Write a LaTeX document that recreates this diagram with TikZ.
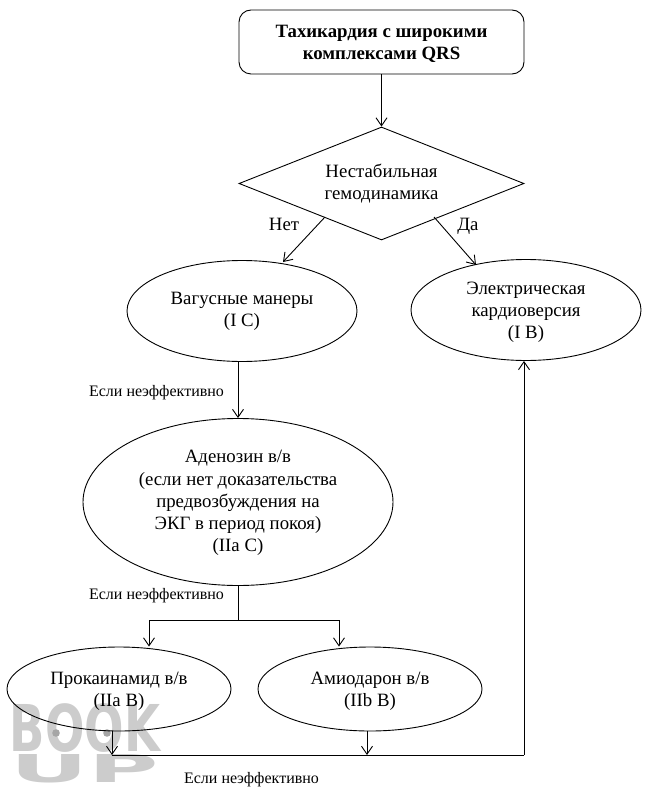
\documentclass[tikz,border=0pt]{standalone}
\usepackage{fontspec}
\setmainfont{Liberation Serif}
\usetikzlibrary{shapes.geometric,arrows.meta}
\newcommand{\lowtext}[2]{\raisebox{\dimexpr-#1-.25em\relax}[0pt][0pt]{\begin{tabular}{@{}c@{}}#2\end{tabular}}}
\tikzset{
  x=1pt,y=-1pt,
  main/.style={font=\fontsize{18.8}{22.2}\selectfont},
  small/.style={font=\fontsize{16}{18}\selectfont,inner sep=0pt},
  oval/.style={draw,ellipse,inner sep=0pt,main,line width=.9pt},
  arr/.style={draw,line width=.9pt,-{Straight Barb[length=8pt,width=11pt,line width=.9pt]}},
  plain/.style={draw,line width=.9pt},
  wm/.style={text=black!20,inner sep=0pt},
}
\begin{document}
\begin{tikzpicture}
\useasboundingbox (0,0) rectangle (646,794);
% watermark
\node[wm,anchor=center,xscale=.72,font=\fontspec{DejaVu Sans}\bfseries\fontsize{64.5}{64.5}\selectfont] (wmbook) at (85,728.5) {BOOK};
\node[wm,anchor=center,xscale=2.5,font=\fontspec{DejaVu Sans}\bfseries\fontsize{38.4}{38.4}\selectfont] (wmup) at (85,769) {UP};
\fill[black!35] (56,733) circle (3.8);
\fill[black!35] (107,733) circle (3.8);
% nodes
\node[draw,rounded corners=12pt,minimum width=285pt,minimum height=64pt,inner sep=0pt,font=\fontsize{18.8}{22.5}\selectfont\bfseries,line width=.9pt] (top) at (381.5,42) {\lowtext{1.5pt}{Тахикардия с широкими\\комплексами QRS}};
\node[draw,diamond,aspect=2.52,minimum width=285pt,minimum height=113pt,inner sep=0pt,main,line width=.9pt] (dia) at (381.5,183.5) {\lowtext{0.5pt}{Нестабильная\\гемодинамика}};
\node[oval,minimum width=230pt,minimum height=101pt] (vag) at (242,311) {\lowtext{-0.5pt}{Вагусные манеры\\(I C)}};
\node[oval,minimum width=230pt,minimum height=101pt] (el) at (526,310) {\lowtext{1.5pt}{Электрическая\\кардиоверсия\\(I B)}};
\node[oval,minimum width=310pt,minimum height=167pt] (ad) at (238,502) {\lowtext{0.5pt}{Аденозин в/в\\(если нет доказательства\\предвозбуждения на\\ЭКГ в период покоя)\\(IIa C)}};
\node[oval,minimum width=224pt,minimum height=84pt] (pr) at (119,689) {\lowtext{1.5pt}{Прокаинамид в/в\\(IIa B)}};
\node[oval,minimum width=224pt,minimum height=84pt] (am) at (370,689) {\lowtext{1.5pt}{Амиодарон в/в\\(IIb B)}};
% labels
\node[main,inner sep=0pt] (net) at (284,224) {Нет};
\node[main,inner sep=0pt] (da) at (468,226) {Да};
\node[small] (l1) at (156.5,392.5) {Если неэффективно};
\node[small] (l2) at (156.5,595.5) {Если неэффективно};
\node[small] (l3) at (251.5,779.5) {Если неэффективно};
% helper points
\coordinate (dl) at (325,217);
\coordinate (dr) at (434,217);
\coordinate (vt) at (283,262);
\coordinate (et) at (476,265);
\coordinate (split) at (238,620);
\coordinate (sl) at (149,620);
\coordinate (sr) at (339,620);
\coordinate (prb) at (112,730.7);
\coordinate (amb) at (367,730.7);
\coordinate (bl) at (112,755);
\coordinate (bm) at (367,755);
\coordinate (br) at (524,755);
% connectors
\path[arr] (top.south) -- (dia.north);
\path[arr] (dl) -- (vt);
\path[arr] (dr) -- (et);
\path[arr] (vag.south -| ad.north) -- (ad.north);
\path[plain] (ad.south) -- (split);
\path[plain] (sl) -- (sr);
\path[arr] (sl) -- (sl |- pr.north);
\path[arr] (sr) -- (sr |- am.north);
\path[arr] (prb) -- (bl);
\path[arr] (amb) -- (bm);
\path[plain] (bl) -- (br);
\path[arr] (br) -- (br |- el.south);
\end{tikzpicture}
\end{document}
